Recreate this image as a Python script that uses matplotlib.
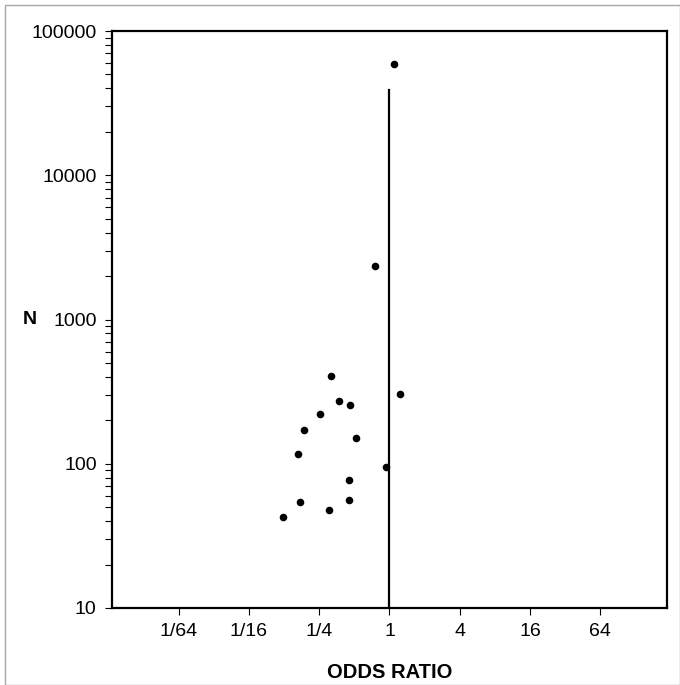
import matplotlib.pyplot as plt
from matplotlib.patches import Rectangle
from matplotlib.ticker import LogLocator, NullLocator, FixedLocator, FixedFormatter, NullFormatter

plt.rcParams['font.family'] = ['Liberation Sans', 'DejaVu Sans']

# study odds ratios and sample sizes
odds_ratio = [1.10, 0.744, 0.318, 1.233, 0.367, 0.463, 0.254, 0.185, 0.514,
              0.164, 0.935, 0.450, 0.170, 0.450, 0.304, 0.123]
n = [59000, 2360, 407, 303, 274, 256, 220, 171, 150,
     116, 95.5, 77, 54.6, 55.8, 47.7, 43]

# reference line at OR = 1
ref_or = 1
ref_n = [10, 39000]

x_ticks = [1/64, 1/16, 1/4, 1, 4, 16, 64]
x_labels = ['1/64', '1/16', '1/4', '1', '4', '16', '64']
y_ticks = [10, 100, 1000, 10000, 100000]
y_labels = ['10', '100', '1000', '10000', '100000']

W, H = 680, 685
fig = plt.figure(figsize=(W / 100, H / 100), dpi=100)

# light grey frame around the figure
fig.patches.append(Rectangle((4.5 / W, 0.5 / H), 675 / W, 680 / H,
                             transform=fig.transFigure, fill=False,
                             edgecolor='#a8a8a8', linewidth=1.0))

ax = fig.add_axes([112 / W, (H - 608) / H, 555 / W, 577 / H])

ax.scatter(odds_ratio, n, s=30, color='black', zorder=3, linewidths=0)
ax.plot([ref_or, ref_or], ref_n, color='black', linewidth=1.6)

ax.set_xscale('log', base=2)
ax.set_yscale('log')
ax.set_xlim(2 ** -7.9, 2 ** 7.9)
ax.set_ylim(10, 100000)

ax.xaxis.set_major_locator(FixedLocator(x_ticks))
ax.xaxis.set_major_formatter(FixedFormatter(x_labels))
ax.xaxis.set_minor_locator(NullLocator())
ax.yaxis.set_major_locator(FixedLocator(y_ticks))
ax.yaxis.set_major_formatter(FixedFormatter(y_labels))
ax.yaxis.set_minor_locator(LogLocator(base=10, subs=range(2, 10)))
ax.yaxis.set_minor_formatter(NullFormatter())

ax.tick_params(which='both', direction='out', length=5, width=0.8,
               labelsize=14, pad=6)

for sp in ax.spines.values():
    sp.set_linewidth(1.6)

fig.text(30 / W, (H - 320) / H, 'N', fontsize=14, fontweight='bold',
         ha='center', va='center')
fig.text(389.5 / W, (H - 673) / H, 'ODDS RATIO', fontsize=14.5,
         fontweight='bold', ha='center', va='center')

fig.savefig('out.png', dpi=100)
